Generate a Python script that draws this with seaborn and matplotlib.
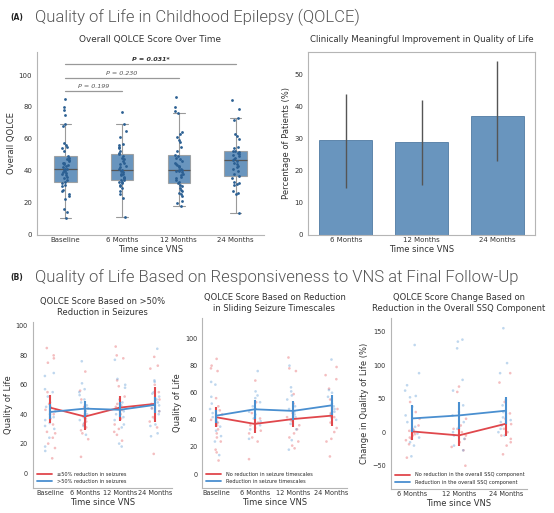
import numpy as np
import pandas as pd
import matplotlib
matplotlib.use("Agg")
import matplotlib.pyplot as plt
import seaborn as sns
from matplotlib.lines import Line2D

np.random.seed(3)

# ---------------- Panel A data ----------------
timepoints = ["Baseline", "6 Months", "12 Months", "24 Months"]
qolce_baseline = [10, 14, 16, 22, 24, 25, 27, 28, 30, 31, 32, 33,
                  34, 35, 36, 37, 38, 38.5, 39, 40, 40.5, 40.8, 41,
                  42, 43, 43.5, 44, 44.5, 45, 46, 46.5, 47, 48, 49,
                  52, 54, 55, 56, 57, 68, 69, 75, 78, 80, 85]
qolce_6m = [10.8, 23, 25, 27, 29, 30, 31, 32, 32.5, 33, 33.75,
            34, 35, 35.5, 36, 37, 37.5, 38, 39, 40, 40.4,
            41, 42, 43, 44, 45, 46, 47, 48, 49, 50.4,
            51, 52, 54, 55, 56, 56.5, 61, 65, 69, 76.5]
qolce_12m = [18, 19.5, 21, 24, 25, 26, 27, 28, 29, 30, 31, 32,
             33, 34, 35, 36, 37, 38, 39, 39.5, 40, 40.3, 40.5,
             41, 42, 43, 43.5, 44, 45, 46, 47, 48, 49, 50,
             52, 55, 58, 59, 61, 63, 64, 76, 77.5, 80, 86]
qolce_24m = [13, 25, 26, 27, 31, 31.5, 32, 33, 35, 36.5,
             38, 40, 41, 42, 43, 44, 45, 46, 46.5,
             47, 48, 49, 50, 50.5, 51, 51.5, 52, 52.5,
             54, 55, 60, 62, 63, 72, 73, 78.5, 84.5]

sig_pairs = [(0, 1), (0, 2), (0, 3)]
sig_labels = ["P = 0.199", "P = 0.230", "P = 0.031*"]
sig_heights = [90, 98, 107]

bar_timepoints = ["6 Months", "12 Months", "24 Months"]
improve_pct = [29.5, 29.0, 37.2]
improve_low = [14.5, 15.5, 23.0]
improve_high = [44.0, 42.0, 54.3]

# ---------------- Panel B data ----------------
# B1: >50% reduction in seizures
b1_labels = ["\u226450% reduction in seizures", ">50% reduction in seizures"]
b1_red_pts = {
    "Baseline": [85, 80, 78, 75, 55, 47, 45, 43, 40, 37, 33, 28, 27, 24, 20, 17, 10],
    "6 Months": [69, 56, 50, 45, 40, 37, 35, 33, 31, 29, 27, 23, 11],
    "12 Months": [86, 80, 78, 63, 59, 52, 47, 45, 43, 40, 37, 33, 30, 28, 26, 22],
    "24 Months": [79, 73, 71, 60, 55, 50, 47, 44, 42, 38, 35, 31, 13],
}
b1_blue_pts = {
    "Baseline": [68, 66, 57, 55, 52, 48, 45, 42, 40, 38, 36, 34, 32, 30, 24, 18, 15],
    "6 Months": [76, 61, 57, 55, 53, 50, 48, 46, 44, 42, 40, 38, 36, 34, 32, 26],
    "12 Months": [77, 64, 60, 58, 50, 48, 46, 44, 42, 40, 38, 36, 33, 31, 20, 18],
    "24 Months": [84.5, 63, 62, 55, 54, 52, 50, 48, 46, 44, 42, 40, 37, 33, 32, 27, 25],
}
b1_red_mean = [44.5, 38.4, 44.5, 47.0]
b1_red_lo = [34.0, 29.5, 35.7, 35.0]
b1_red_hi = [53.0, 47.0, 52.4, 58.7]
b1_blue_mean = [41.5, 43.8, 43.0, 46.3]
b1_blue_lo = [37.0, 38.4, 38.4, 40.6]
b1_blue_hi = [47.0, 49.0, 48.5, 52.0]

# B2: reduction in sliding seizure timescales
b2_labels = ["No reduction in seizure timescales", "Reduction in seizure timescales"]
b2_red_pts = {
    "Baseline": [85, 80, 78, 76, 56, 50, 47, 44, 40, 38, 36, 33, 30, 27, 24, 18, 16, 10],
    "6 Months": [69, 53, 45, 41, 38, 36, 34, 32, 30, 27, 24, 11],
    "12 Months": [86, 78, 76, 59, 52, 45, 42, 39, 36, 33, 30, 27, 24, 21, 19],
    "24 Months": [79, 73, 70, 63, 55, 48, 45, 42, 38, 34, 31, 26, 24, 13],
}
b2_blue_pts = {
    "Baseline": [68, 66, 57, 52, 48, 45, 42, 40, 38, 35, 32, 28, 24, 14],
    "6 Months": [76, 61, 58, 56, 53, 50, 48, 46, 44, 41, 39, 36, 33, 26],
    "12 Months": [80, 64, 61, 58, 55, 50, 48, 46, 44, 42, 40, 37, 33, 25, 18],
    "24 Months": [84.5, 62, 60, 57, 55, 52, 50, 48, 46, 44, 42, 40],
}
b2_red_mean = [41.9, 37.0, 40.6, 43.1]
b2_red_lo = [34.5, 30.3, 34.5, 35.2]
b2_red_hi = [49.3, 43.8, 47.5, 50.0]
b2_blue_mean = [43.1, 47.8, 46.6, 50.7]
b2_blue_lo = [37.7, 40.6, 40.1, 43.8]
b2_blue_hi = [47.5, 55.0, 53.7, 58.6]

# B3: change in QoL by overall SSQ component
b3_timepoints = ["6 Months", "12 Months", "24 Months"]
b3_labels = ["No reduction in the overall SSQ component", "Reduction in the overall SSQ component"]
b3_red_pts = {
    "6 Months": [45, 30, 20, 10, 5, 2, 0, -3, -5, -8, -10, -12, -18, -38],
    "12 Months": [68, 60, 20, 10, 5, 0, -5, -10, -15, -22, -27, -50],
    "24 Months": [88, 74, 45, 28, 20, 12, 5, 0, -5, -10, -15, -20, -33],
}
b3_blue_pts = {
    "6 Months": [130, 88, 70, 62, 54, 52, 38, 25, 15, 8, 3, -2, -8, -15, -20, -36],
    "12 Months": [138, 135, 125, 78, 62, 40, 30, 25, 15, 5, 0, -5, -10, -20, -27],
    "24 Months": [155, 103, 88, 48, 40, 30, 22, 18, 15, 10, 5, 0, -5],
}
b3_red_mean = [1.1, -4.8, 12.5]
b3_red_lo = [-11.3, -21.0, -6.3]
b3_red_hi = [6.0, 8.6, 28.4]
b3_blue_mean = [20.5, 25.0, 32.0]
b3_blue_lo = [0.0, 5.0, 12.0]
b3_blue_hi = [41.0, 45.0, 53.0]

# ---------------- styling ----------------
sns.set_style("white")
plt.rcParams["font.family"] = ["DejaVu Sans"]
SPINE = "#b5b5b5"
TXT = "#333333"
RED = "#e0474c"
BLUE = "#4a8fd0"
BOXC = "#4f83b3"

fig = plt.figure(figsize=(5.54, 5.13), dpi=100)


def style_axes(ax, all_spines=False, tick=5, lab=6):
    for s in ["left", "bottom", "top", "right"]:
        ax.spines[s].set_color(SPINE)
        ax.spines[s].set_linewidth(0.8)
    if not all_spines:
        ax.spines["top"].set_visible(False)
        ax.spines["right"].set_visible(False)
    ax.tick_params(axis="both", labelsize=tick, colors=TXT, length=2, width=0.6, pad=1.5)
    ax.tick_params(axis="x", length=0)
    ax.xaxis.label.set_size(lab)
    ax.yaxis.label.set_size(lab)
    ax.xaxis.label.set_color(TXT)
    ax.yaxis.label.set_color(TXT)


# Headers
HEAD_FONT = ["Roboto", "DejaVu Sans"]
fig.text(0.018, 0.966, "(A)", fontsize=5.5, fontweight="bold", color="#222", va="center")
fig.text(0.063, 0.966, "Quality of Life in Childhood Epilepsy (QOLCE)", fontsize=12,
         family=HEAD_FONT, fontweight=300, color="#555555", va="center")
fig.text(0.018, 0.459, "(B)", fontsize=5.5, fontweight="bold", color="#222", va="center")
fig.text(0.063, 0.459, "Quality of Life Based on Responsiveness to VNS at Final Follow-Up", fontsize=12,
         family=HEAD_FONT, fontweight=300, color="#555555", va="center")

# ---------------- Panel A1: boxplot ----------------
axA = fig.add_axes([0.0668, 0.542, 0.4097, 0.3567])
dfA = pd.DataFrame({
    "time": (["Baseline"] * len(qolce_baseline) + ["6 Months"] * len(qolce_6m)
             + ["12 Months"] * len(qolce_12m) + ["24 Months"] * len(qolce_24m)),
    "value": qolce_baseline + qolce_6m + qolce_12m + qolce_24m,
})
sns.boxplot(data=dfA, x="time", y="value", order=timepoints, width=0.4, color=BOXC,
            saturation=1, linecolor="#9a9a9a", linewidth=0.8, showfliers=False,
            boxprops=dict(alpha=0.85), medianprops=dict(color="#555555", linewidth=0.9), ax=axA)
sns.stripplot(data=dfA, x="time", y="value", order=timepoints, color="#2b5f92", size=2.0,
              jitter=0.07, ax=axA)
for (i, j), lab, h in zip(sig_pairs, sig_labels, sig_heights):
    axA.plot([i, j], [h, h], color="#999999", lw=0.9)
    bold = "*" in lab
    axA.text((i + j) / 2, h + 1.5, lab, ha="center", va="bottom", fontsize=4.6,
             style="italic", fontweight="bold" if bold else "normal",
             color="#333" if bold else "#555")
axA.set_xlim(-0.5, 3.5)
axA.set_ylim(-0.5, 114.5)
axA.set_yticks([0, 20, 40, 60, 80, 100])
axA.set_xlabel("Time since VNS", labelpad=1.5)
axA.set_ylabel("Overall QOLCE", labelpad=2)
axA.set_title("Overall QOLCE Score Over Time", fontsize=6.4, color=TXT, pad=7)
style_axes(axA)

# ---------------- Panel A2: bar chart ----------------
axB = fig.add_axes([0.556, 0.542, 0.4097, 0.3567])
sns.barplot(x=bar_timepoints, y=improve_pct, color=BOXC, saturation=1, width=0.7,
            alpha=0.85, edgecolor="#3f6d98", linewidth=0.6, errorbar=None, ax=axB)
axB.vlines(range(len(bar_timepoints)), improve_low, improve_high, color="#555555", lw=1.0)
axB.set_xlim(-0.5, 2.5)
axB.set_ylim(0, 57)
axB.set_yticks([0, 10, 20, 30, 40, 50])
axB.set_xlabel("Time since VNS", labelpad=1.5)
axB.set_ylabel("Percentage of Patients (%)", labelpad=2)
axB.set_title("Clinically Meaningful Improvement in Quality of Life", fontsize=6.2, color=TXT, pad=7)
style_axes(axB, all_spines=True)


# ---------------- Panel B ----------------
def long_df(red_pts, blue_pts, labels):
    rows = []
    for t, vals in red_pts.items():
        rows += [(t, v, labels[0]) for v in vals]
    for t, vals in blue_pts.items():
        rows += [(t, v, labels[1]) for v in vals]
    return pd.DataFrame(rows, columns=["time", "value", "group"])


def panel_b(rect, order, red_pts, blue_pts, labels, rmean, rlo, rhi, bmean, blo, bhi,
            title, ylabel, xlim, ylim, yticks):
    ax = fig.add_axes(rect)
    df = long_df(red_pts, blue_pts, labels)
    sns.stripplot(data=df, x="time", y="value", hue="group", order=order, hue_order=labels,
                  palette=[RED, BLUE], jitter=0.16, size=1.9, alpha=0.35, linewidth=0,
                  legend=False, ax=ax)
    pos = np.arange(len(order))
    ax.plot(pos, rmean, color=RED, lw=1.3, zorder=5)
    ax.vlines(pos, rlo, rhi, color=RED, lw=1.5, zorder=5)
    ax.plot(pos, bmean, color=BLUE, lw=1.3, zorder=6)
    ax.vlines(pos, blo, bhi, color=BLUE, lw=1.5, zorder=6)
    handles = [Line2D([0], [0], color=RED, lw=1.3), Line2D([0], [0], color=BLUE, lw=1.3)]
    ax.legend(handles, labels, loc="lower left", frameon=False, fontsize=3.6,
              handlelength=3.0, borderaxespad=0.4, labelspacing=0.5, handletextpad=1.0)
    ax.set_xlim(*xlim)
    ax.set_ylim(*ylim)
    ax.set_yticks(yticks)
    ax.set_xlabel("Time since VNS", labelpad=1.5)
    ax.set_ylabel(ylabel, labelpad=2)
    ax.set_title(title, fontsize=6.0, color=TXT, pad=5, linespacing=1.3)
    style_axes(ax, tick=4.7, lab=6)
    return ax


panel_b([0.0587, 0.0487, 0.252, 0.3236], timepoints, b1_red_pts, b1_blue_pts, b1_labels,
        b1_red_mean, b1_red_lo, b1_red_hi, b1_blue_mean, b1_blue_lo, b1_blue_hi,
        "QOLCE Score Based on >50%\nReduction in Seizures", "Quality of Life",
        (-0.5, 3.5), (-10.2, 102.7), [0, 20, 40, 60, 80, 100])
panel_b([0.3646, 0.0487, 0.2617, 0.331], timepoints, b2_red_pts, b2_blue_pts, b2_labels,
        b2_red_mean, b2_red_lo, b2_red_hi, b2_blue_mean, b2_blue_lo, b2_blue_hi,
        "QOLCE Score Based on Reduction\nin Sliding Seizure Timescales", "Quality of Life",
        (-0.37, 3.4), (-10.3, 115), [0, 20, 40, 60, 80, 100])
panel_b([0.7052, 0.0468, 0.2455, 0.333], b3_timepoints, b3_red_pts, b3_blue_pts, b3_labels,
        b3_red_mean, b3_red_lo, b3_red_hi, b3_blue_mean, b3_blue_lo, b3_blue_hi,
        "QOLCE Score Change Based on\nReduction in the Overall SSQ Component",
        "Change in Quality of Life (%)",
        (-0.46, 2.45), (-84.7, 170), [-50, 0, 50, 100, 150])

fig.savefig("out.png", dpi=100)
